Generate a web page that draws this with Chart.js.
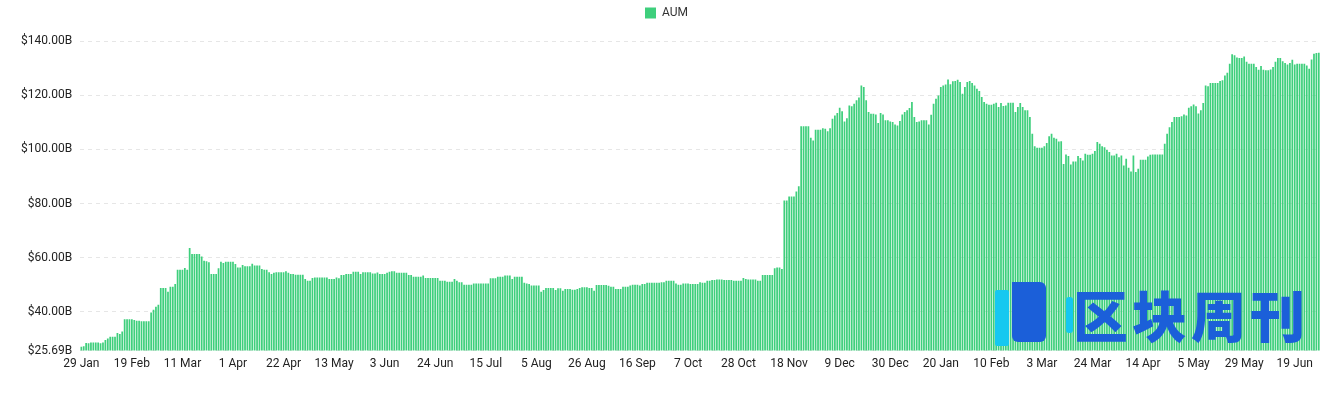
<!DOCTYPE html>
<html>
<head>
<meta charset="utf-8">
<script src="https://cdn.jsdelivr.net/npm/chart.js@4"></script>
<style>
  html, body { margin: 0; padding: 0; background: #fff; }
  #wrap { position: relative; width: 1340px; height: 400px; }
  #mark { position: absolute; left: 995px; top: 282px; height: 66px; width: 330px; pointer-events: none; }
  #mark .a { position: absolute; left: 0; top: 8px; width: 14px; height: 56px; background: #16c8f0; border-radius: 2px; }
  #mark .b { position: absolute; left: 17px; top: 0; width: 34px; height: 60px; background: #1b5fd9; border-radius: 0 6px 6px 6px; }
  #mark .c { position: absolute; left: 71px; top: 15px; width: 7px; height: 36px; background: #16c8f0; border-radius: 3px; }
  #mark .t { position: absolute; left: 78px; top: -9px; font-family: "Noto Sans CJK SC", sans-serif; font-weight: 900;
             font-size: 55px; letter-spacing: 4px; color: #1b5fd9; white-space: nowrap; }
</style>
</head>
<body>
<div id="wrap">
  <canvas id="chart"></canvas>
  <div id="mark"><div class="a"></div><div class="b"></div><div class="c"></div><div class="t">区块周刊</div></div>
</div>
<script>
// tick labels, one every 21 days starting 29 Jan 2024
const tickLabels = ['29 Jan', '19 Feb', '11 Mar', '1 Apr', '22 Apr', '13 May', '3 Jun', '24 Jun', '15 Jul',
  '5 Aug', '26 Aug', '16 Sep', '7 Oct', '28 Oct', '18 Nov', '9 Dec', '30 Dec', '20 Jan', '10 Feb',
  '3 Mar', '24 Mar', '14 Apr', '5 May', '29 May', '19 Jun'];
const tickEvery = 21;

// AUM in billions USD, one value per day
const aum = [
  27.1, 27.3, 28.5, 28.4, 28.7, 28.7, 28.7,
  28.7, 28.4, 28.7, 29.6, 30.2, 30.8, 30.8,
  30.8, 32.2, 31.8, 32.7, 37.3, 37.3, 37.3,
  37.3, 37.0, 36.7, 36.7, 36.5, 36.5, 36.5,
  36.5, 39.8, 40.8, 41.9, 42.6, 48.8, 48.8,
  48.8, 47.4, 49.3, 49.3, 50.3, 55.5, 55.5,
  55.5, 56.2, 55.5, 63.6, 61.4, 61.4, 61.4,
  61.4, 60.4, 58.9, 58.7, 58.3, 54.0, 54.0,
  54.0, 56.1, 58.5, 58.0, 58.5, 58.5, 58.5,
  58.5, 57.7, 56.4, 56.4, 57.3, 56.8, 56.8,
  56.8, 57.8, 57.1, 57.1, 57.1, 55.8, 55.5,
  55.5, 54.6, 54.0, 54.4, 54.6, 54.6, 54.6,
  54.6, 55.0, 54.4, 54.0, 54.0, 53.7, 53.7,
  53.7, 53.7, 52.1, 51.5, 51.5, 52.5, 52.7,
  52.7, 52.7, 52.7, 52.7, 52.7, 52.1, 52.1,
  52.1, 52.7, 52.4, 53.6, 53.6, 54.0, 54.0,
  54.0, 54.8, 54.8, 54.8, 54.0, 54.6, 54.6,
  54.6, 54.6, 54.2, 54.2, 54.5, 54.0, 54.0,
  54.0, 54.4, 54.8, 55.0, 55.0, 54.4, 54.4,
  54.4, 54.4, 54.4, 53.6, 53.6, 53.0, 53.0,
  53.0, 53.0, 53.4, 52.5, 52.5, 52.5, 52.5,
  52.5, 52.5, 51.5, 51.5, 51.5, 51.1, 51.1,
  51.1, 52.1, 51.5, 50.9, 50.9, 50.0, 50.0,
  50.0, 50.0, 50.5, 50.5, 50.5, 50.5, 50.5,
  50.5, 50.5, 52.4, 52.4, 52.4, 53.0, 53.0,
  53.0, 53.4, 53.4, 53.4, 52.1, 53.0, 53.0,
  53.0, 53.0, 50.7, 50.5, 50.3, 49.7, 49.7,
  49.7, 49.7, 47.4, 48.1, 48.8, 48.8, 48.8,
  48.8, 48.1, 48.7, 48.7, 47.8, 48.4, 48.4,
  48.4, 48.2, 48.2, 48.4, 48.8, 49.1, 49.1,
  49.1, 48.8, 48.8, 47.8, 49.9, 49.9, 49.9,
  49.9, 49.9, 49.6, 49.3, 49.3, 48.4, 48.4,
  48.4, 49.3, 49.3, 49.3, 49.7, 50.0, 50.0,
  50.0, 49.7, 50.3, 50.3, 50.7, 50.7, 50.7,
  50.7, 50.7, 50.7, 50.9, 50.9, 51.5, 51.5,
  51.5, 51.5, 50.5, 50.0, 50.0, 50.5, 50.5,
  50.5, 50.3, 50.3, 50.3, 50.3, 50.9, 50.7,
  50.7, 51.5, 51.5, 51.8, 51.8, 51.9, 51.9,
  51.9, 51.8, 51.8, 51.8, 51.8, 51.5, 51.5,
  51.5, 51.5, 52.5, 52.1, 51.9, 51.9, 51.9,
  51.9, 51.5, 51.5, 53.6, 53.6, 53.6, 53.6,
  53.6, 56.1, 56.4, 56.4, 55.8, 81.1, 81.1,
  82.6, 82.6, 82.6, 84.4, 86.4, 108.5, 108.5,
  108.5, 108.5, 104.3, 103.3, 107.2, 107.2, 107.2,
  107.8, 107.6, 106.7, 107.8, 111.3, 112.5, 113.4,
  115.4, 114.1, 110.3, 111.5, 116.2, 115.9, 116.8,
  118.1, 119.1, 123.6, 123.0, 118.1, 113.8, 113.1,
  113.1, 112.9, 109.7, 113.4, 112.9, 110.7, 110.7,
  110.3, 110.1, 109.2, 108.8, 110.5, 112.9, 113.8,
  114.4, 115.3, 117.5, 111.9, 110.1, 110.3, 110.7,
  110.7, 110.7, 109.2, 112.8, 116.8, 118.7, 119.9,
  123.0, 123.6, 123.9, 125.8, 124.0, 125.1, 125.2,
  125.7, 124.9, 120.5, 123.0, 124.9, 125.2, 124.5,
  123.6, 122.4, 121.5, 119.3, 117.5, 116.8, 116.5,
  116.5, 116.8, 117.2, 115.6, 117.1, 116.0, 116.2,
  117.2, 117.2, 117.2, 113.8, 115.6, 117.1, 115.6,
  114.4, 114.4, 111.9, 105.8, 101.1, 100.6, 100.6,
  100.6, 101.1, 102.3, 104.8, 105.8, 104.3, 103.9,
  102.9, 103.0, 94.6, 98.1, 97.5, 94.4, 95.5,
  95.5, 97.5, 96.8, 95.9, 98.4, 98.0, 98.0,
  98.4, 99.4, 102.7, 102.1, 101.1, 100.8, 99.8,
  99.0, 97.7, 97.7, 98.4, 97.1, 97.7, 94.0,
  96.5, 93.2, 91.8, 97.7, 91.6, 92.8, 96.2,
  96.2, 96.2, 97.4, 98.0, 98.1, 98.1, 98.1,
  98.1, 98.1, 102.1, 105.8, 108.2, 110.1, 111.9,
  111.9, 111.9, 112.2, 112.9, 112.5, 115.4, 115.9,
  116.6, 115.9, 113.2, 114.4, 117.1, 123.6, 123.3,
  124.5, 124.5, 124.5, 124.5, 125.2, 125.5, 127.3,
  128.3, 131.6, 135.1, 134.7, 133.9, 133.7, 133.7,
  134.3, 132.3, 131.6, 131.6, 131.6, 130.4, 129.4,
  130.8, 129.4, 129.2, 129.2, 129.5, 130.4, 132.3,
  133.7, 133.7, 132.5, 131.9, 131.3, 131.9, 133.1,
  131.3, 131.6, 131.6, 131.6, 131.6, 131.0, 129.8,
  133.2, 135.3, 135.6, 135.7
];

const yMin = 25.69;
const yMax = 140;

const labels = aum.map((v, i) => i % tickEvery === 0 ? tickLabels[i / tickEvery] : '');

// push the plot area down below the legend
const legendGap = {
  id: 'legendGap',
  beforeInit(chart) {
    const fit = chart.legend.fit;
    chart.legend.fit = function () {
      fit.bind(chart.legend)();
      this.height += 12;
    };
  }
};

const ctx = document.getElementById('chart');

new Chart(ctx, {
  type: 'bar',
  data: {
    labels: labels,
    datasets: [{
      label: 'AUM',
      data: aum,
      backgroundColor: '#3ecf7c',
      borderWidth: 0
    }]
  },
  options: {
    responsive: true,
    maintainAspectRatio: false,
    animation: false,
    layout: { padding: { left: 13, right: 20, top: 0, bottom: 23 } },
    plugins: {
      legend: {
        position: 'top',
        labels: {
          boxWidth: 11,
          boxHeight: 11,
          color: '#333',
          font: { family: 'Roboto', size: 12 },
          padding: 7
        }
      },
      tooltip: { enabled: false }
    },
    scales: {
      x: {
        grid: { display: false, drawTicks: false },
        border: { display: false },
        ticks: {
          autoSkip: false,
          maxRotation: 0,
          padding: 6,
          color: '#222',
          font: { family: 'Roboto', size: 12 }
        }
      },
      y: {
        min: yMin,
        max: yMax,
        grid: { color: '#e6e6e6', drawTicks: false },
        border: { display: false, dash: [4, 4] },
        ticks: {
          stepSize: 20,
          padding: 8,
          color: '#222',
          font: { family: 'Roboto', size: 12 },
          callback: v => '$' + Number(v).toFixed(2) + 'B'
        }
      }
    }
  },
  plugins: [legendGap]
});
</script>
</body>
</html>
